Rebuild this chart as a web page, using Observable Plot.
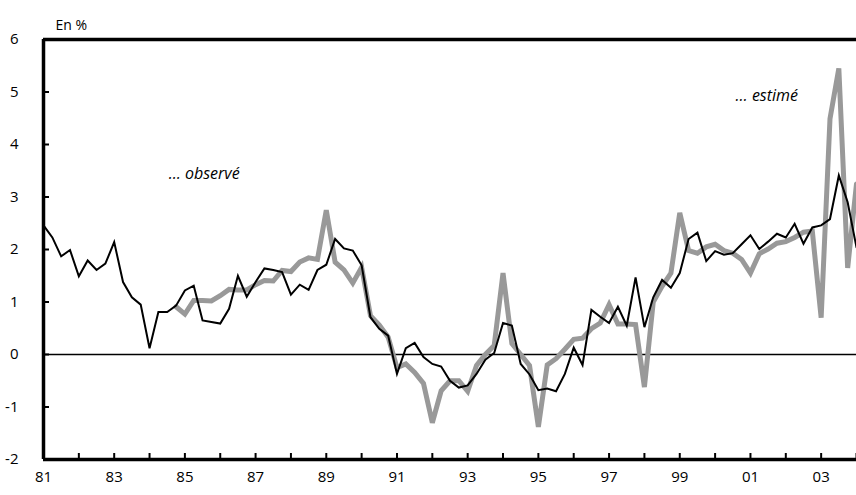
<!DOCTYPE html>
<html>
<head>
<meta charset="utf-8">
<script src="https://cdn.jsdelivr.net/npm/d3@7"></script>
<script src="https://cdn.jsdelivr.net/npm/@observablehq/plot@0.6"></script>
<style>
  body { margin: 0; background: #fff; }
</style>
</head>
<body>
<div id="chart"></div>
<script>
// Quarterly series, first quarter = 1981 Q1
const startYear = 1981;

// Black thin line ("… observé"), 1981Q1 – 2004Q1
const observe = [
  2.46, 2.23, 1.87, 1.99, 1.49, 1.79, 1.61, 1.73,
  2.14, 1.38, 1.09, 0.95, 0.12, 0.81, 0.81, 0.93,
  1.22, 1.31, 0.65, 0.62, 0.59, 0.87, 1.50, 1.10,
  1.38, 1.64, 1.61, 1.57, 1.14, 1.33, 1.23, 1.61,
  1.71, 2.20, 2.02, 1.98, 1.70, 0.71, 0.49, 0.36,
  -0.37, 0.12, 0.22, -0.05, -0.18, -0.23, -0.50, -0.63,
  -0.59, -0.37, -0.10, 0.03, 0.60, 0.55, -0.18, -0.38,
  -0.68, -0.65, -0.70, -0.37, 0.13, -0.20, 0.85, 0.72,
  0.60, 0.91, 0.55, 1.47, 0.52, 1.09, 1.42, 1.27,
  1.55, 2.20, 2.32, 1.78, 1.97, 1.90, 1.93, 2.10,
  2.27, 2.01, 2.15, 2.30, 2.23, 2.49, 2.11, 2.42,
  2.46, 2.58, 3.41, 2.90, 2.04
];

// Grey thick line ("… estimé"), starts 1984Q4
const estime = [
  null, null, null, null, null, null, null, null,
  null, null, null, null, null, null, null, 0.91,
  0.77, 1.03, 1.03, 1.02, 1.12, 1.24, 1.23, 1.23,
  1.33, 1.41, 1.40, 1.60, 1.58, 1.76, 1.84, 1.81,
  2.75, 1.76, 1.61, 1.36, 1.66, 0.74, 0.56, 0.33,
  -0.25, -0.18, -0.34, -0.55, -1.30, -0.69, -0.50, -0.50,
  -0.70, -0.21, 0.00, 0.17, 1.55, 0.21, 0.00, -0.21,
  -1.38, -0.20, -0.08, 0.10, 0.29, 0.31, 0.49, 0.60,
  0.95, 0.58, 0.58, 0.57, -0.62, 1.00, 1.30, 1.55,
  2.70, 1.98, 1.93, 2.05, 2.10, 1.98, 1.93, 1.81,
  1.55, 1.92, 2.01, 2.12, 2.15, 2.23, 2.33, 2.35,
  0.70, 4.49, 5.45, 1.65, 3.25
];

const yTicks = [-2, -1, 0, 1, 2, 3, 4, 5, 6];
const xTickYears = [1981, 1982, 1983, 1984, 1985, 1986, 1987, 1988, 1989, 1990, 1991, 1992,
                    1993, 1994, 1995, 1996, 1997, 1998, 1999, 2000, 2001, 2002, 2003, 2004];
const xLabelYears = [1981, 1983, 1985, 1987, 1989, 1991, 1993, 1995, 1997, 1999, 2001, 2003];
const xLabelText = ["81", "83", "85", "87", "89", "91", "93", "95", "97", "99", "01", "03"];

const annotations = [
  { t: 1984.54, v: 3.45, label: "… observé" },
  { t: 2000.58, v: 4.93, label: "… estimé" }
];

const toRows = (arr) => arr.map((v, i) => ({ t: startYear + i / 4, v }))
                           .filter(d => d.v !== null);
const blackRows = toRows(observe);
const greyRows = toRows(estime);

const chart = Plot.plot({
  width: 856,
  height: 495,
  marginLeft: 43,
  marginRight: 0,
  marginTop: 39,
  marginBottom: 36,
  style: { fontFamily: "'Open Sans', sans-serif", fontSize: "15px", background: "#fff", color: "#000" },
  x: { domain: [1981, 2004], label: null },
  y: { domain: [-2, 6], label: null },
  marks: [
    Plot.ruleY([0], { stroke: "#000", strokeWidth: 1.5 }),
    Plot.line(greyRows, { x: "t", y: "v", stroke: "#999999", strokeWidth: 5, strokeLinejoin: "miter", strokeMiterlimit: 4 }),
    Plot.line(blackRows, { x: "t", y: "v", stroke: "#000", strokeWidth: 2, strokeLinejoin: "miter", strokeMiterlimit: 4 }),
    // inward ticks: shift each tick by its own length
    Plot.axisX({ ticks: xTickYears, tickSize: 6, dy: -6, text: null, stroke: "#000", strokeWidth: 2 }),
    Plot.axisX({ ticks: xLabelYears, tickSize: 0, tickPadding: 12,
                 tickFormat: (d) => xLabelText[xLabelYears.indexOf(d)], fontSize: 15 }),
    Plot.axisY({ ticks: yTicks, tickSize: 6, dx: 6, text: null, stroke: "#000", strokeWidth: 2 }),
    Plot.axisY({ ticks: yTicks, tickSize: 0, tickPadding: 25, tickFormat: (d) => String(d), fontSize: 15 }),
    Plot.ruleX([1981], { stroke: "#000", strokeWidth: 3.5 }),
    Plot.ruleY([-2, 6], { stroke: "#000", strokeWidth: 3.5 }),
    Plot.text(["En %"], { frameAnchor: "top-left", dx: 12, dy: -19, textAnchor: "start", fontSize: 14 }),
    Plot.text(annotations, { x: "t", y: "v", text: "label", textAnchor: "start", fontStyle: "italic", fontSize: 16 })
  ]
});

document.getElementById("chart").appendChild(chart);
</script>
</body>
</html>
